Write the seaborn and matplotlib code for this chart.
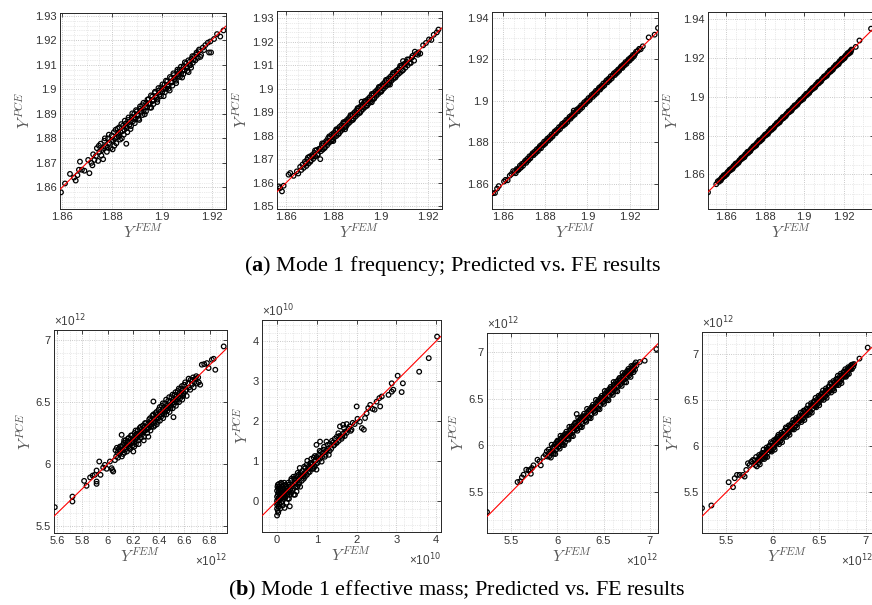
import numpy as np
import matplotlib
matplotlib.use("Agg")
import matplotlib.pyplot as plt
import seaborn as sns
from matplotlib.ticker import AutoMinorLocator, FormatStrFormatter

# ---------------------------------------------------------------------------
# Data: (Y_FEM, Y_PCE) pairs for every panel
# Top row: mode 1 frequency. Bottom row: mode 1 effective mass
# (bottom row values are in units of 1e12, panel b2 in units of 1e10)
# ---------------------------------------------------------------------------

freq_1 = [
    (1.8596, 1.8580), (1.8612, 1.8616), (1.8632, 1.8655), (1.8648, 1.8640), (1.8655, 1.8628),
    (1.8662, 1.8650), (1.8668, 1.8672), (1.8672, 1.8705), (1.8680, 1.8672), (1.8690, 1.8668),
    (1.8705, 1.8712), (1.8710, 1.8658), (1.8718, 1.8700), (1.8725, 1.8735), (1.8730, 1.8712),
    (1.8740, 1.8760), (1.8745, 1.8708), (1.8750, 1.8745), (1.8755, 1.8778), (1.8760, 1.8752),
    (1.8765, 1.8715), (1.8770, 1.8790), (1.8775, 1.8768), (1.8780, 1.8745), (1.8785, 1.8800),
    (1.8790, 1.8782), (1.8795, 1.8760), (1.8800, 1.8812), (1.8805, 1.8790), (1.8810, 1.8770),
    (1.8815, 1.8835), (1.8820, 1.8805), (1.8825, 1.8818), (1.8830, 1.8845), (1.8835, 1.8825),
    (1.8840, 1.8800), (1.8845, 1.8852), (1.8850, 1.8835), (1.8858, 1.8778), (1.8855, 1.8860),
    (1.8860, 1.8842), (1.8865, 1.8875), (1.8870, 1.8855), (1.8875, 1.8838), (1.8880, 1.8888),
    (1.8885, 1.8870), (1.8890, 1.8900), (1.8895, 1.8880), (1.8900, 1.8910), (1.8905, 1.8892),
    (1.8910, 1.8875), (1.8912, 1.8920), (1.8918, 1.8905), (1.8922, 1.8935), (1.8928, 1.8915),
    (1.8932, 1.8898), (1.8938, 1.8945), (1.8942, 1.8928), (1.8948, 1.8960), (1.8952, 1.8940),
    (1.8958, 1.8925), (1.8962, 1.8970), (1.8968, 1.8955), (1.8972, 1.8985), (1.8978, 1.8965),
    (1.8982, 1.8948), (1.8988, 1.8995), (1.8992, 1.8978), (1.8998, 1.9008), (1.9002, 1.8990),
    (1.9008, 1.8972), (1.9012, 1.9020), (1.9018, 1.9002), (1.9022, 1.9032), (1.9028, 1.9015),
    (1.9032, 1.8995), (1.9038, 1.9045), (1.9042, 1.9028), (1.9048, 1.9058), (1.9052, 1.9040),
    (1.9058, 1.9025), (1.9062, 1.9072), (1.9068, 1.9055), (1.9072, 1.9080), (1.9078, 1.9065),
    (1.9082, 1.9048), (1.9088, 1.9095), (1.9092, 1.9078), (1.9098, 1.9105), (1.9102, 1.9088),
    (1.9108, 1.9070), (1.9112, 1.9112), (1.9115, 1.9098), (1.9120, 1.9125), (1.9125, 1.9108),
    (1.9130, 1.9135), (1.9135, 1.9118), (1.9140, 1.9150), (1.9145, 1.9128), (1.9150, 1.9162),
    (1.9158, 1.9140), (1.9165, 1.9170), (1.9175, 1.9180), (1.9190, 1.9150), (1.9198, 1.9150),
    (1.9210, 1.9205), (1.9222, 1.9225), (1.9235, 1.9215), (1.9248, 1.9240),
    (1.8722, 1.8690), (1.8736, 1.8728), (1.8748, 1.8770), (1.8758, 1.8730), (1.8768, 1.8760),
    (1.8772, 1.8800), (1.8783, 1.8762), (1.8788, 1.8815), (1.8797, 1.8790), (1.8803, 1.8755),
    (1.8808, 1.8825), (1.8812, 1.8800), (1.8818, 1.8780), (1.8823, 1.8840), (1.8828, 1.8808),
    (1.8833, 1.8795), (1.8838, 1.8858), (1.8843, 1.8830), (1.8848, 1.8815), (1.8852, 1.8872),
    (1.8857, 1.8850), (1.8862, 1.8825), (1.8867, 1.8885), (1.8872, 1.8868), (1.8877, 1.8850),
    (1.8882, 1.8902), (1.8887, 1.8880), (1.8892, 1.8862), (1.8897, 1.8915), (1.8902, 1.8898),
    (1.8907, 1.8880), (1.8913, 1.8930), (1.8917, 1.8912), (1.8923, 1.8895), (1.8927, 1.8945),
    (1.8933, 1.8925), (1.8937, 1.8910), (1.8943, 1.8958), (1.8947, 1.8942), (1.8953, 1.8925),
    (1.8957, 1.8975), (1.8963, 1.8952), (1.8967, 1.8940), (1.8973, 1.8990), (1.8977, 1.8972),
    (1.8983, 1.8958), (1.8987, 1.9005), (1.8993, 1.8988), (1.8997, 1.8972), (1.9003, 1.9020),
    (1.9007, 1.9000), (1.9013, 1.8988), (1.9017, 1.9035), (1.9023, 1.9012), (1.9027, 1.9002),
    (1.9033, 1.9050), (1.9037, 1.9030), (1.9043, 1.9015), (1.9047, 1.9065), (1.9053, 1.9048),
    (1.9057, 1.9035), (1.9063, 1.9080), (1.9067, 1.9062), (1.9073, 1.9050), (1.9077, 1.9092),
    (1.9083, 1.9075), (1.9087, 1.9062), (1.9093, 1.9110), (1.9097, 1.9090), (1.9103, 1.9075),
    (1.9107, 1.9118), (1.9113, 1.9100), (1.9118, 1.9088), (1.9123, 1.9135), (1.9128, 1.9120),
    (1.9138, 1.9142), (1.9148, 1.9155), (1.9155, 1.9132), (1.9170, 1.9160), (1.9185, 1.9190),
    (1.9195, 1.9195),
]

freq_2 = [
    (1.8569, 1.8585), (1.8575, 1.8578), (1.8583, 1.8564), (1.8590, 1.8588), (1.8611, 1.8635),
    (1.8618, 1.8642), (1.8632, 1.8630), (1.8646, 1.8649), (1.8652, 1.8640), (1.8660, 1.8668),
    (1.8665, 1.8655), (1.8670, 1.8678), (1.8675, 1.8664), (1.8680, 1.8690), (1.8686, 1.8672),
    (1.8690, 1.8700), (1.8695, 1.8682), (1.8700, 1.8712), (1.8705, 1.8695), (1.8710, 1.8718),
    (1.8715, 1.8702), (1.8720, 1.8728), (1.8725, 1.8712), (1.8730, 1.8740), (1.8735, 1.8722),
    (1.8740, 1.8745), (1.8745, 1.8701), (1.8748, 1.8735), (1.8752, 1.8760), (1.8756, 1.8742),
    (1.8760, 1.8768), (1.8765, 1.8752), (1.8770, 1.8778), (1.8774, 1.8760), (1.8778, 1.8790),
    (1.8782, 1.8770), (1.8786, 1.8795), (1.8790, 1.8778), (1.8794, 1.8806), (1.8798, 1.8786),
    (1.8802, 1.8812), (1.8806, 1.8795), (1.8810, 1.8822), (1.8814, 1.8800), (1.8818, 1.8828),
    (1.8822, 1.8810), (1.8826, 1.8838), (1.8830, 1.8818), (1.8834, 1.8845), (1.8838, 1.8826),
    (1.8842, 1.8852), (1.8846, 1.8835), (1.8850, 1.8860), (1.8854, 1.8842), (1.8858, 1.8868),
    (1.8862, 1.8850), (1.8866, 1.8876), (1.8870, 1.8858), (1.8874, 1.8884), (1.8878, 1.8866),
    (1.8882, 1.8892), (1.8886, 1.8874), (1.8890, 1.8900), (1.8894, 1.8882), (1.8898, 1.8908),
    (1.8902, 1.8890), (1.8906, 1.8916), (1.8910, 1.8898), (1.8914, 1.8924), (1.8918, 1.8906),
    (1.8922, 1.8932), (1.8926, 1.8914), (1.8930, 1.8940), (1.8934, 1.8922), (1.8938, 1.8948),
    (1.8942, 1.8930), (1.8946, 1.8956), (1.8950, 1.8938), (1.8954, 1.8964), (1.8958, 1.8946),
    (1.8962, 1.8972), (1.8963, 1.8943), (1.8966, 1.8954), (1.8970, 1.8980), (1.8974, 1.8962),
    (1.8978, 1.8988), (1.8982, 1.8970), (1.8986, 1.8996), (1.8990, 1.8978), (1.8994, 1.9004),
    (1.8998, 1.8986), (1.9002, 1.9012), (1.9006, 1.8994), (1.9010, 1.9020), (1.9014, 1.9002),
    (1.9018, 1.9028), (1.9022, 1.9010), (1.9026, 1.9036), (1.9030, 1.9018), (1.9034, 1.9044),
    (1.9038, 1.9026), (1.9042, 1.9052), (1.9046, 1.9034), (1.9050, 1.9060), (1.9054, 1.9042),
    (1.9058, 1.9068), (1.9062, 1.9050), (1.9066, 1.9076), (1.9070, 1.9058), (1.9074, 1.9082),
    (1.9078, 1.9065), (1.9082, 1.9090), (1.9086, 1.9072), (1.9090, 1.9098), (1.9095, 1.9080),
    (1.9100, 1.9106), (1.9105, 1.9090), (1.9110, 1.9115), (1.9115, 1.9100), (1.9120, 1.9125),
    (1.9128, 1.9110), (1.9135, 1.9140), (1.9142, 1.9120), (1.9150, 1.9148), (1.9160, 1.9155),
    (1.9168, 1.9150), (1.9180, 1.9185), (1.9192, 1.9195), (1.9205, 1.9210), (1.9215, 1.9208),
    (1.9225, 1.9230), (1.9238, 1.9240), (1.9245, 1.9252),
    (1.8683, 1.8683), (1.8693, 1.8708), (1.8703, 1.8690), (1.8713, 1.8713), (1.8723, 1.8738),
    (1.8733, 1.8718), (1.8743, 1.8743), (1.8753, 1.8768), (1.8763, 1.8748), (1.8773, 1.8773),
    (1.8783, 1.8798), (1.8793, 1.8778), (1.8803, 1.8803), (1.8813, 1.8828), (1.8823, 1.8808),
    (1.8833, 1.8833), (1.8843, 1.8858), (1.8853, 1.8838), (1.8863, 1.8863), (1.8873, 1.8888),
    (1.8883, 1.8868), (1.8893, 1.8893), (1.8903, 1.8918), (1.8913, 1.8898), (1.8923, 1.8923),
    (1.8933, 1.8948), (1.8943, 1.8928), (1.8953, 1.8953), (1.8963, 1.8978), (1.8973, 1.8958),
    (1.8983, 1.8983), (1.8993, 1.9008), (1.9003, 1.8988), (1.9013, 1.9013), (1.9023, 1.9038),
    (1.9033, 1.9018), (1.9043, 1.9043), (1.9053, 1.9068), (1.9063, 1.9048), (1.9073, 1.9073),
    (1.9083, 1.9098), (1.9093, 1.9078), (1.9103, 1.9103), (1.9113, 1.9125), (1.9123, 1.9110),
    (1.9133, 1.9133), (1.9145, 1.9158), (1.9158, 1.9145), (1.8800, 1.8778), (1.8850, 1.8828),
    (1.8920, 1.8945), (1.9040, 1.9018), (1.9095, 1.9118),
]

freq_3 = [
    (1.8553, 1.8556), (1.8562, 1.8557), (1.8572, 1.8578), (1.8580, 1.8590), (1.8605, 1.8612),
    (1.8612, 1.8620), (1.8622, 1.8618), (1.8632, 1.8640), (1.8640, 1.8648), (1.8648, 1.8662),
    (1.8655, 1.8658), (1.8660, 1.8652), (1.8665, 1.8672), (1.8670, 1.8666), (1.8675, 1.8670),
    (1.8680, 1.8688), (1.8685, 1.8679), (1.8690, 1.8697), (1.8695, 1.8688), (1.8700, 1.8703),
    (1.8705, 1.8712), (1.8710, 1.8702), (1.8715, 1.8721), (1.8720, 1.8714), (1.8725, 1.8733),
    (1.8730, 1.8724), (1.8735, 1.8738), (1.8740, 1.8748), (1.8745, 1.8739), (1.8750, 1.8756),
    (1.8755, 1.8749), (1.8760, 1.8767), (1.8765, 1.8758), (1.8770, 1.8774), (1.8775, 1.8783),
    (1.8780, 1.8772), (1.8785, 1.8791), (1.8790, 1.8786), (1.8795, 1.8804), (1.8800, 1.8794),
    (1.8805, 1.8808), (1.8810, 1.8818), (1.8815, 1.8809), (1.8820, 1.8826), (1.8825, 1.8819),
    (1.8830, 1.8838), (1.8835, 1.8829), (1.8840, 1.8843), (1.8845, 1.8853), (1.8850, 1.8844),
    (1.8855, 1.8861), (1.8860, 1.8856), (1.8865, 1.8873), (1.8870, 1.8864), (1.8875, 1.8879),
    (1.8880, 1.8889), (1.8885, 1.8880), (1.8890, 1.8896), (1.8895, 1.8888), (1.8900, 1.8908),
    (1.8905, 1.8898), (1.8910, 1.8913), (1.8915, 1.8923), (1.8920, 1.8914), (1.8925, 1.8931),
    (1.8930, 1.8926), (1.8935, 1.8953), (1.8935, 1.8943), (1.8940, 1.8934), (1.8945, 1.8948),
    (1.8950, 1.8958), (1.8955, 1.8949), (1.8960, 1.8966), (1.8965, 1.8959), (1.8970, 1.8978),
    (1.8975, 1.8968), (1.8980, 1.8983), (1.8985, 1.8993), (1.8990, 1.8984), (1.8995, 1.9001),
    (1.9000, 1.8996), (1.9005, 1.9013), (1.9010, 1.9004), (1.9015, 1.9018), (1.9020, 1.9028),
    (1.9025, 1.9019), (1.9030, 1.9036), (1.9035, 1.9029), (1.9040, 1.9048), (1.9045, 1.9038),
    (1.9050, 1.9053), (1.9055, 1.9063), (1.9060, 1.9054), (1.9065, 1.9071), (1.9070, 1.9066),
    (1.9075, 1.9083), (1.9080, 1.9074), (1.9085, 1.9088), (1.9090, 1.9098), (1.9095, 1.9089),
    (1.9100, 1.9106), (1.9105, 1.9099), (1.9110, 1.9118), (1.9115, 1.9108), (1.9120, 1.9123),
    (1.9125, 1.9132), (1.9130, 1.9124), (1.9135, 1.9140), (1.9140, 1.9134), (1.9145, 1.9150),
    (1.9150, 1.9144), (1.9155, 1.9158), (1.9160, 1.9166), (1.9165, 1.9158), (1.9170, 1.9174),
    (1.9175, 1.9170), (1.9180, 1.9186), (1.9185, 1.9178), (1.9190, 1.9192), (1.9195, 1.9200),
    (1.9200, 1.9194), (1.9205, 1.9208), (1.9210, 1.9204), (1.9215, 1.9220), (1.9220, 1.9214),
    (1.9225, 1.9226), (1.9230, 1.9236), (1.9238, 1.9240), (1.9245, 1.9250), (1.9252, 1.9248),
    (1.9262, 1.9262), (1.9290, 1.9305), (1.9318, 1.9318), (1.9334, 1.9350),
    (1.8668, 1.8668), (1.8683, 1.8680), (1.8698, 1.8700), (1.8713, 1.8712), (1.8728, 1.8726),
    (1.8743, 1.8744), (1.8758, 1.8758), (1.8773, 1.8771), (1.8788, 1.8789), (1.8803, 1.8802),
    (1.8818, 1.8818), (1.8833, 1.8831), (1.8848, 1.8849), (1.8863, 1.8862), (1.8878, 1.8878),
    (1.8893, 1.8891), (1.8908, 1.8909), (1.8923, 1.8922), (1.8938, 1.8938), (1.8953, 1.8951),
    (1.8968, 1.8969), (1.8983, 1.8982), (1.8998, 1.8998), (1.9013, 1.9011), (1.9028, 1.9029),
    (1.9043, 1.9042), (1.9058, 1.9058), (1.9073, 1.9071), (1.9088, 1.9089), (1.9103, 1.9102),
    (1.9118, 1.9118), (1.9133, 1.9131), (1.9148, 1.9149), (1.9163, 1.9162), (1.9178, 1.9178),
    (1.9193, 1.9191), (1.9208, 1.9209), (1.9223, 1.9222),
]

freq_4 = [
    (1.8510, 1.8508), (1.8552, 1.8550),
    (1.8560, 1.8565), (1.8565, 1.8562), (1.8570, 1.8572), (1.8575, 1.8569), (1.8580, 1.8584),
    (1.8585, 1.8584), (1.8590, 1.8596), (1.8595, 1.8591), (1.8600, 1.8601), (1.8605, 1.8600),
    (1.8610, 1.8613), (1.8615, 1.8615), (1.8620, 1.8625), (1.8625, 1.8622), (1.8630, 1.8632),
    (1.8635, 1.8629), (1.8640, 1.8644), (1.8645, 1.8644), (1.8650, 1.8656), (1.8655, 1.8651),
    (1.8660, 1.8661), (1.8665, 1.8660), (1.8670, 1.8673), (1.8675, 1.8675), (1.8680, 1.8685),
    (1.8685, 1.8682), (1.8690, 1.8692), (1.8695, 1.8689), (1.8700, 1.8704), (1.8705, 1.8704),
    (1.8710, 1.8716), (1.8715, 1.8711), (1.8720, 1.8721), (1.8725, 1.8720), (1.8730, 1.8733),
    (1.8735, 1.8735), (1.8740, 1.8745), (1.8745, 1.8742), (1.8750, 1.8752), (1.8755, 1.8749),
    (1.8760, 1.8764), (1.8765, 1.8764), (1.8770, 1.8776), (1.8775, 1.8771), (1.8780, 1.8781),
    (1.8785, 1.8780), (1.8790, 1.8793), (1.8795, 1.8795), (1.8800, 1.8805), (1.8805, 1.8802),
    (1.8810, 1.8812), (1.8815, 1.8809), (1.8820, 1.8824), (1.8825, 1.8824), (1.8830, 1.8836),
    (1.8835, 1.8831), (1.8840, 1.8841), (1.8845, 1.8840), (1.8850, 1.8853), (1.8855, 1.8855),
    (1.8860, 1.8865), (1.8865, 1.8862), (1.8870, 1.8872), (1.8875, 1.8869), (1.8880, 1.8884),
    (1.8885, 1.8884), (1.8890, 1.8896), (1.8895, 1.8891), (1.8900, 1.8901), (1.8905, 1.8900),
    (1.8910, 1.8913), (1.8915, 1.8915), (1.8920, 1.8925), (1.8925, 1.8922), (1.8930, 1.8932),
    (1.8935, 1.8929), (1.8940, 1.8944), (1.8945, 1.8944), (1.8950, 1.8956), (1.8955, 1.8951),
    (1.8960, 1.8961), (1.8965, 1.8960), (1.8970, 1.8973), (1.8975, 1.8975), (1.8980, 1.8985),
    (1.8985, 1.8982), (1.8990, 1.8992), (1.8995, 1.8989), (1.9000, 1.9004), (1.9005, 1.9004),
    (1.9010, 1.9016), (1.9015, 1.9011), (1.9020, 1.9021), (1.9025, 1.9020), (1.9030, 1.9033),
    (1.9035, 1.9035), (1.9040, 1.9045), (1.9045, 1.9042), (1.9050, 1.9052), (1.9055, 1.9049),
    (1.9060, 1.9064), (1.9065, 1.9064), (1.9070, 1.9076), (1.9075, 1.9071), (1.9080, 1.9081),
    (1.9085, 1.9080), (1.9090, 1.9093), (1.9095, 1.9095), (1.9100, 1.9105), (1.9105, 1.9102),
    (1.9110, 1.9112), (1.9115, 1.9109), (1.9120, 1.9124), (1.9125, 1.9124), (1.9130, 1.9136),
    (1.9135, 1.9131), (1.9140, 1.9141), (1.9145, 1.9140), (1.9150, 1.9153), (1.9155, 1.9155),
    (1.9160, 1.9165), (1.9165, 1.9162), (1.9170, 1.9172), (1.9175, 1.9169), (1.9180, 1.9184),
    (1.9185, 1.9184), (1.9190, 1.9196), (1.9195, 1.9191), (1.9200, 1.9201), (1.9205, 1.9200),
    (1.9210, 1.9213), (1.9215, 1.9215), (1.9220, 1.9225), (1.9225, 1.9222), (1.9230, 1.9232),
    (1.9235, 1.9229), (1.9240, 1.9244),
    (1.9262, 1.9258), (1.9281, 1.9291), (1.9340, 1.9352),
    (1.8578, 1.8577), (1.8593, 1.8594), (1.8608, 1.8607), (1.8623, 1.8624), (1.8638, 1.8637),
    (1.8653, 1.8654), (1.8668, 1.8667), (1.8683, 1.8684), (1.8698, 1.8697), (1.8713, 1.8714),
    (1.8728, 1.8727), (1.8743, 1.8744), (1.8758, 1.8757), (1.8773, 1.8774), (1.8788, 1.8787),
    (1.8803, 1.8804), (1.8818, 1.8817), (1.8833, 1.8834), (1.8848, 1.8847), (1.8863, 1.8864),
    (1.8878, 1.8877), (1.8893, 1.8894), (1.8908, 1.8907), (1.8923, 1.8924), (1.8938, 1.8937),
    (1.8953, 1.8954), (1.8968, 1.8967), (1.8983, 1.8984), (1.8998, 1.8997), (1.9013, 1.9014),
    (1.9028, 1.9027), (1.9043, 1.9044), (1.9058, 1.9057), (1.9073, 1.9074), (1.9088, 1.9087),
    (1.9103, 1.9104), (1.9118, 1.9117), (1.9133, 1.9134), (1.9148, 1.9147), (1.9163, 1.9164),
    (1.9178, 1.9177), (1.9193, 1.9194), (1.9208, 1.9207), (1.9223, 1.9224), (1.9238, 1.9237),
]

mass_1 = [
    (5.582, 5.649), (5.721, 5.735), (5.721, 5.695), (5.813, 5.862), (5.832, 5.822),
    (5.860, 5.890), (5.880, 5.905), (5.897, 5.911), (5.911, 5.946), (5.911, 5.857),
    (5.911, 5.838), (5.932, 6.019), (5.942, 5.911), (5.963, 5.970), (5.976, 5.992),
    (5.990, 5.960), (6.016, 6.019), (6.029, 5.965), (6.042, 5.938), (6.035, 5.950),
    (6.055, 6.030), (6.060, 6.110), (6.065, 6.060), (6.070, 6.130), (6.075, 6.090),
    (6.080, 6.050), (6.085, 6.120), (6.090, 6.080), (6.095, 6.140), (6.100, 6.100),
    (6.108, 6.235), (6.110, 6.060), (6.115, 6.150), (6.120, 6.110), (6.125, 6.170),
    (6.130, 6.090), (6.135, 6.130), (6.140, 6.190), (6.145, 6.150), (6.150, 6.100),
    (6.155, 6.180), (6.160, 6.140), (6.165, 6.210), (6.170, 6.160), (6.175, 6.120),
    (6.180, 6.200), (6.185, 6.170), (6.190, 6.230), (6.195, 6.150), (6.200, 6.100),
    (6.200, 6.210), (6.205, 6.180), (6.210, 6.250), (6.215, 6.200), (6.220, 6.160),
    (6.225, 6.240), (6.230, 6.210), (6.235, 6.270), (6.240, 6.190), (6.245, 6.230),
    (6.250, 6.290), (6.255, 6.250), (6.260, 6.210), (6.265, 6.280), (6.270, 6.240),
    (6.275, 6.310), (6.280, 6.260), (6.285, 6.220), (6.290, 6.300), (6.295, 6.270),
    (6.300, 6.330), (6.305, 6.290), (6.310, 6.250), (6.315, 6.320), (6.320, 6.290),
    (6.325, 6.360), (6.330, 6.310), (6.335, 6.270), (6.340, 6.350), (6.345, 6.320),
    (6.350, 6.390), (6.355, 6.340), (6.358, 6.505), (6.360, 6.300), (6.365, 6.370),
    (6.370, 6.340), (6.375, 6.410), (6.380, 6.360), (6.385, 6.320), (6.390, 6.400),
    (6.395, 6.370), (6.400, 6.440), (6.405, 6.390), (6.410, 6.350), (6.415, 6.420),
    (6.420, 6.400), (6.425, 6.470), (6.430, 6.410), (6.435, 6.370), (6.440, 6.450),
    (6.445, 6.420), (6.450, 6.490), (6.455, 6.440), (6.460, 6.400), (6.465, 6.470),
    (6.470, 6.450), (6.475, 6.510), (6.480, 6.460), (6.485, 6.420), (6.490, 6.500),
    (6.495, 6.470), (6.500, 6.540), (6.505, 6.490), (6.510, 6.450), (6.516, 6.378),
    (6.515, 6.520), (6.520, 6.500), (6.525, 6.560), (6.530, 6.510), (6.535, 6.470),
    (6.540, 6.550), (6.545, 6.520), (6.550, 6.590), (6.555, 6.540), (6.560, 6.500),
    (6.565, 6.570), (6.570, 6.550), (6.575, 6.610), (6.580, 6.560), (6.585, 6.520),
    (6.590, 6.600), (6.595, 6.570), (6.600, 6.640), (6.610, 6.590), (6.620, 6.550),
    (6.630, 6.650), (6.640, 6.620), (6.650, 6.680), (6.660, 6.640), (6.670, 6.700),
    (6.680, 6.660), (6.690, 6.690), (6.700, 6.650), (6.726, 6.641), (6.710, 6.700),
    (6.739, 6.803), (6.758, 6.808), (6.779, 6.816), (6.792, 6.776), (6.818, 6.843),
    (6.832, 6.851), (6.845, 6.762), (6.911, 6.951),
    (6.105, 6.140), (6.118, 6.080), (6.128, 6.190), (6.142, 6.120), (6.158, 6.205),
    (6.168, 6.130), (6.182, 6.230), (6.192, 6.180), (6.208, 6.140), (6.218, 6.270),
    (6.232, 6.235), (6.242, 6.160), (6.258, 6.300), (6.268, 6.260), (6.282, 6.190),
    (6.292, 6.330), (6.308, 6.280), (6.318, 6.220), (6.332, 6.370), (6.342, 6.300),
    (6.358, 6.400), (6.368, 6.310), (6.382, 6.420), (6.392, 6.340), (6.408, 6.460),
    (6.418, 6.380), (6.432, 6.490), (6.442, 6.400), (6.458, 6.520), (6.468, 6.430),
    (6.482, 6.540), (6.492, 6.450), (6.508, 6.560), (6.518, 6.480), (6.532, 6.580),
    (6.542, 6.500), (6.558, 6.610), (6.568, 6.530), (6.582, 6.630), (6.592, 6.550),
    (6.608, 6.660), (6.618, 6.600), (6.635, 6.690), (6.648, 6.600), (6.665, 6.680),
    (6.675, 6.620), (6.695, 6.710), (6.715, 6.660),
]

mass_2 = [
    (0.00, -0.37), (0.00, -0.20), (0.00, -0.10), (0.00, 0.00), (0.00, 0.10), (0.00, 0.25),
    (0.01, 0.35), (0.01, -0.05), (0.02, 0.15), (0.02, -0.25), (0.03, 0.05), (0.03, 0.30),
    (0.04, -0.15), (0.04, 0.20), (0.05, 0.00), (0.05, 0.42), (0.06, -0.08), (0.07, 0.12),
    (0.07, 0.28), (0.08, -0.20), (0.09, 0.05), (0.10, 0.18), (0.10, 0.45), (0.11, -0.05),
    (0.12, 0.10), (0.13, 0.30), (0.14, -0.12), (0.15, 0.20), (0.16, 0.05), (0.17, 0.38),
    (0.18, 0.15), (0.19, -0.18), (0.20, 0.25), (0.21, 0.08), (0.22, 0.40), (0.23, 0.18),
    (0.24, -0.05), (0.25, 0.30), (0.26, 0.15), (0.28, 0.45), (0.29, 0.22), (0.30, 0.05),
    (0.31, 0.35), (0.32, -0.14), (0.33, 0.28), (0.35, 0.50), (0.36, 0.20), (0.38, 0.40),
    (0.40, 0.30), (0.41, 0.60), (0.42, 0.15), (0.44, 0.45), (0.45, 0.15), (0.46, 0.35),
    (0.48, 0.62), (0.49, 0.23), (0.50, 0.50), (0.52, 0.70), (0.53, 0.40), (0.55, 0.55),
    (0.57, 0.82), (0.58, 0.35), (0.60, 0.62), (0.62, 0.50), (0.64, 0.75), (0.66, 0.61),
    (0.68, 0.85), (0.70, 0.60), (0.72, 0.72), (0.74, 0.90), (0.76, 1.00), (0.78, 0.70),
    (0.80, 0.82), (0.82, 0.72), (0.84, 0.95), (0.86, 1.05), (0.88, 0.80), (0.90, 0.92),
    (0.92, 1.08), (0.94, 0.85), (0.96, 1.00), (0.99, 0.78), (0.99, 1.40), (1.00, 1.10),
    (1.02, 0.95), (1.05, 1.15), (1.08, 1.48), (1.08, 1.05), (1.10, 1.22), (1.12, 0.98),
    (1.15, 1.20), (1.18, 1.35), (1.20, 1.10), (1.24, 1.48), (1.24, 1.25), (1.28, 1.30),
    (1.30, 1.15), (1.33, 1.42), (1.36, 1.30), (1.40, 1.45), (1.42, 1.38), (1.45, 1.55),
    (1.48, 1.45), (1.50, 1.60), (1.54, 1.69), (1.55, 1.50), (1.58, 1.86), (1.60, 1.62),
    (1.62, 1.55), (1.66, 1.90), (1.66, 1.68), (1.70, 1.62), (1.71, 1.73), (1.75, 1.92),
    (1.75, 1.70), (1.80, 1.80), (1.82, 1.86), (1.85, 1.75), (1.87, 1.78), (1.90, 1.95),
    (1.95, 1.92), (2.00, 2.36), (2.02, 2.05), (2.08, 1.98), (2.13, 1.82), (2.18, 1.78),
    (2.21, 2.07), (2.25, 2.19), (2.29, 2.32), (2.34, 2.40), (2.40, 2.30), (2.45, 2.28),
    (2.50, 2.48), (2.57, 2.57), (2.59, 2.36), (2.63, 2.61), (2.80, 2.65), (2.88, 2.94),
    (2.88, 2.73), (2.92, 2.78), (3.03, 3.13), (3.13, 2.72), (3.16, 2.94), (3.57, 3.23),
    (3.81, 3.57), (4.02, 4.11),
    (0.02, 0.40), (0.03, -0.30), (0.05, 0.22), (0.06, 0.35), (0.08, 0.10), (0.09, 0.30),
    (0.11, 0.25), (0.12, 0.42), (0.14, 0.08), (0.16, 0.30), (0.18, 0.45), (0.20, 0.10),
    (0.22, 0.25), (0.24, 0.35), (0.27, 0.05), (0.30, 0.40), (0.33, 0.15), (0.36, 0.55),
    (0.39, 0.25), (0.43, 0.55), (0.47, 0.45), (0.51, 0.35), (0.54, 0.65), (0.56, 0.45),
    (0.59, 0.70), (0.63, 0.62), (0.67, 0.55), (0.71, 0.82), (0.75, 0.65), (0.79, 0.85),
    (0.83, 0.80), (0.87, 0.92), (0.91, 0.80), (0.95, 1.12), (0.98, 0.92), (1.03, 1.05),
    (1.07, 1.25), (1.13, 1.10), (1.17, 1.28), (1.22, 1.15), (1.27, 1.40), (1.32, 1.25),
    (1.38, 1.50), (1.44, 1.40), (1.50, 1.45), (1.56, 1.62), (1.64, 1.60), (1.68, 1.82),
]

mass_3 = [
    (5.237, 5.286), (5.568, 5.607), (5.597, 5.614), (5.615, 5.657), (5.633, 5.686),
    (5.662, 5.739), (5.687, 5.732), (5.705, 5.739), (5.712, 5.696), (5.723, 5.757),
    (5.741, 5.786), (5.784, 5.846), (5.806, 5.829), (5.820, 5.786), (5.849, 5.875),
    (5.870, 5.900), (5.885, 5.936), (5.895, 5.880),
    (5.905, 5.955), (5.913, 5.883), (5.921, 5.931), (5.929, 5.869), (5.937, 6.007),
    (5.945, 5.935), (5.953, 5.983), (5.961, 5.911), (5.969, 5.989), (5.977, 5.907),
    (5.985, 6.025), (5.993, 5.993), (6.001, 6.051), (6.009, 5.979), (6.017, 6.027),
    (6.025, 5.965), (6.033, 6.103), (6.041, 6.031), (6.049, 6.079), (6.057, 6.007),
    (6.065, 6.085), (6.073, 6.003), (6.081, 6.121), (6.089, 6.089), (6.097, 6.147),
    (6.105, 6.075), (6.113, 6.123), (6.121, 6.061), (6.129, 6.199), (6.137, 6.127),
    (6.145, 6.175), (6.153, 6.103), (6.161, 6.181), (6.169, 6.099), (6.177, 6.217),
    (6.185, 6.185), (6.193, 6.243), (6.201, 6.171), (6.209, 6.336), (6.217, 6.157),
    (6.225, 6.295), (6.233, 6.223), (6.241, 6.271), (6.249, 6.199), (6.257, 6.277),
    (6.265, 6.195), (6.273, 6.313), (6.281, 6.281), (6.289, 6.339), (6.297, 6.267),
    (6.305, 6.315), (6.313, 6.253), (6.321, 6.391), (6.329, 6.319), (6.337, 6.367),
    (6.345, 6.295), (6.353, 6.373), (6.361, 6.291), (6.369, 6.409), (6.377, 6.377),
    (6.385, 6.435), (6.393, 6.363), (6.401, 6.411), (6.409, 6.349), (6.417, 6.487),
    (6.425, 6.415), (6.433, 6.463), (6.441, 6.391), (6.449, 6.469), (6.457, 6.387),
    (6.465, 6.505), (6.473, 6.473), (6.481, 6.531), (6.489, 6.459), (6.497, 6.507),
    (6.505, 6.445), (6.513, 6.583), (6.521, 6.511), (6.529, 6.559), (6.537, 6.487),
    (6.545, 6.565), (6.553, 6.483), (6.561, 6.601), (6.569, 6.569), (6.577, 6.627),
    (6.585, 6.555), (6.593, 6.603), (6.601, 6.541), (6.609, 6.679), (6.617, 6.607),
    (6.625, 6.655), (6.633, 6.583), (6.641, 6.661), (6.649, 6.579), (6.657, 6.697),
    (6.665, 6.665), (6.673, 6.723), (6.681, 6.651), (6.689, 6.699), (6.697, 6.637),
    (6.705, 6.775), (6.713, 6.703), (6.721, 6.751), (6.729, 6.679), (6.737, 6.757),
    (6.745, 6.675), (6.753, 6.793), (6.761, 6.761), (6.769, 6.819), (6.777, 6.747),
    (6.785, 6.795), (6.793, 6.733), (6.801, 6.851), (6.809, 6.799), (6.817, 6.847),
    (6.825, 6.785), (6.833, 6.853), (6.841, 6.811), (6.849, 6.889), (6.857, 6.857),
    (6.892, 6.893), (6.946, 6.907), (7.072, 7.032),
    (5.950, 5.975), (5.962, 5.930), (5.974, 6.010), (5.986, 5.955), (5.998, 6.040),
    (6.010, 6.020), (6.022, 5.990), (6.034, 6.070), (6.046, 6.010), (6.058, 6.100),
    (6.070, 6.060), (6.082, 6.030), (6.094, 6.120), (6.106, 6.100), (6.118, 6.070),
    (6.130, 6.160), (6.142, 6.120), (6.154, 6.200), (6.166, 6.140), (6.178, 6.160),
    (6.190, 6.230), (6.202, 6.210), (6.214, 6.180), (6.226, 6.250), (6.238, 6.200),
    (6.250, 6.290), (6.262, 6.250), (6.274, 6.230), (6.286, 6.310), (6.298, 6.300),
    (6.310, 6.270), (6.322, 6.350), (6.334, 6.300), (6.346, 6.380), (6.358, 6.340),
    (6.370, 6.330), (6.382, 6.410), (6.394, 6.400), (6.406, 6.370), (6.418, 6.450),
    (6.430, 6.400), (6.442, 6.480), (6.454, 6.440), (6.466, 6.430), (6.478, 6.510),
    (6.490, 6.500), (6.502, 6.470), (6.514, 6.550), (6.526, 6.500), (6.538, 6.580),
    (6.550, 6.540), (6.562, 6.530), (6.574, 6.610), (6.586, 6.600), (6.598, 6.570),
    (6.610, 6.650), (6.622, 6.600), (6.634, 6.680), (6.646, 6.640), (6.658, 6.630),
    (6.670, 6.710), (6.682, 6.700), (6.694, 6.670), (6.706, 6.740), (6.718, 6.700),
    (6.730, 6.770), (6.742, 6.740), (6.754, 6.730), (6.766, 6.800), (6.778, 6.790),
    (6.790, 6.770), (6.802, 6.820), (6.814, 6.810), (6.826, 6.830), (6.838, 6.870),
]

mass_4 = [
    (5.238, 5.327), (5.339, 5.356), (5.525, 5.608), (5.572, 5.554), (5.590, 5.651),
    (5.615, 5.687), (5.643, 5.687), (5.679, 5.687), (5.697, 5.669), (5.715, 5.741),
    (5.733, 5.813), (5.751, 5.795), (5.769, 5.831), (5.787, 5.849),
    (5.805, 5.845), (5.813, 5.793), (5.821, 5.881), (5.829, 5.779), (5.837, 5.847),
    (5.845, 5.815), (5.853, 5.903), (5.861, 5.801), (5.869, 5.889), (5.877, 5.877),
    (5.885, 5.925), (5.893, 5.873), (5.901, 5.961), (5.909, 5.859), (5.917, 5.927),
    (5.925, 5.895), (5.933, 5.983), (5.941, 5.881), (5.949, 5.969), (5.957, 5.957),
    (5.965, 6.005), (5.973, 5.953), (5.981, 6.041), (5.989, 5.939), (5.997, 6.007),
    (6.005, 5.975), (6.013, 6.063), (6.021, 5.961), (6.029, 6.049), (6.037, 6.037),
    (6.045, 6.085), (6.053, 6.033), (6.061, 6.121), (6.069, 6.019), (6.077, 6.087),
    (6.085, 6.055), (6.093, 6.143), (6.101, 6.041), (6.109, 6.129), (6.117, 6.117),
    (6.125, 6.165), (6.133, 6.113), (6.141, 6.201), (6.149, 6.099), (6.157, 6.167),
    (6.165, 6.135), (6.173, 6.223), (6.181, 6.121), (6.189, 6.209), (6.197, 6.197),
    (6.205, 6.245), (6.213, 6.193), (6.221, 6.281), (6.229, 6.179), (6.237, 6.247),
    (6.245, 6.215), (6.253, 6.303), (6.261, 6.201), (6.269, 6.289), (6.277, 6.277),
    (6.285, 6.325), (6.293, 6.273), (6.301, 6.361), (6.309, 6.259), (6.317, 6.327),
    (6.325, 6.295), (6.333, 6.383), (6.341, 6.281), (6.349, 6.369), (6.357, 6.357),
    (6.365, 6.405), (6.373, 6.353), (6.381, 6.441), (6.389, 6.339), (6.397, 6.407),
    (6.405, 6.375), (6.413, 6.463), (6.421, 6.361), (6.429, 6.449), (6.437, 6.437),
    (6.445, 6.485), (6.453, 6.433), (6.461, 6.521), (6.469, 6.419), (6.477, 6.487),
    (6.485, 6.455), (6.493, 6.543), (6.501, 6.441), (6.509, 6.529), (6.517, 6.517),
    (6.525, 6.565), (6.533, 6.513), (6.541, 6.601), (6.549, 6.499), (6.557, 6.567),
    (6.565, 6.535), (6.573, 6.623), (6.581, 6.521), (6.589, 6.609), (6.597, 6.597),
    (6.605, 6.645), (6.613, 6.593), (6.621, 6.681), (6.629, 6.579), (6.637, 6.647),
    (6.645, 6.615), (6.653, 6.703), (6.661, 6.601), (6.669, 6.689), (6.677, 6.677),
    (6.685, 6.725), (6.693, 6.673), (6.701, 6.761), (6.709, 6.659), (6.717, 6.727),
    (6.725, 6.695), (6.733, 6.783), (6.741, 6.681), (6.749, 6.769), (6.757, 6.757),
    (6.765, 6.805), (6.773, 6.753), (6.781, 6.831), (6.789, 6.749), (6.797, 6.807),
    (6.805, 6.775), (6.813, 6.853), (6.821, 6.781), (6.829, 6.849), (6.837, 6.837),
    (6.845, 6.875), (6.853, 6.833), (6.861, 6.881), (6.869, 6.859), (6.877, 6.887),
    (6.934, 6.946), (7.023, 7.065),
    (5.850, 5.860), (5.862, 5.840), (5.874, 5.900), (5.886, 5.860), (5.898, 5.920),
    (5.910, 5.900), (5.922, 5.880), (5.934, 5.960), (5.946, 5.930), (5.958, 5.990),
    (5.970, 5.960), (5.982, 5.950), (5.994, 6.030), (6.006, 6.000), (6.018, 5.990),
    (6.030, 6.070), (6.042, 6.030), (6.054, 6.100), (6.066, 6.060), (6.078, 6.050),
    (6.090, 6.120), (6.102, 6.100), (6.114, 6.090), (6.126, 6.160), (6.138, 6.120),
    (6.150, 6.190), (6.162, 6.160), (6.174, 6.150), (6.186, 6.220), (6.198, 6.190),
    (6.210, 6.180), (6.222, 6.250), (6.234, 6.210), (6.246, 6.280), (6.258, 6.250),
    (6.270, 6.240), (6.282, 6.310), (6.294, 6.290), (6.306, 6.280), (6.318, 6.350),
    (6.330, 6.310), (6.342, 6.380), (6.354, 6.340), (6.366, 6.330), (6.378, 6.400),
    (6.390, 6.380), (6.402, 6.370), (6.414, 6.440), (6.426, 6.400), (6.438, 6.470),
    (6.450, 6.440), (6.462, 6.430), (6.474, 6.500), (6.486, 6.480), (6.498, 6.470),
    (6.510, 6.540), (6.522, 6.500), (6.534, 6.570), (6.546, 6.540), (6.558, 6.530),
    (6.570, 6.600), (6.582, 6.580), (6.594, 6.570), (6.606, 6.640), (6.618, 6.600),
    (6.630, 6.670), (6.642, 6.630), (6.654, 6.620), (6.666, 6.690), (6.678, 6.670),
    (6.690, 6.660), (6.702, 6.730), (6.714, 6.700), (6.726, 6.760), (6.738, 6.720),
    (6.750, 6.740), (6.762, 6.790), (6.774, 6.770), (6.786, 6.760), (6.798, 6.820),
    (6.810, 6.800), (6.822, 6.840), (6.834, 6.830), (6.846, 6.850), (6.858, 6.880),
]

# axis settings per panel: limits, major ticks, minor subdivisions, exponent label
freq_ticks_x = [1.86, 1.88, 1.90, 1.92]
panels = [
    dict(data=freq_1, xlim=(1.8592, 1.9258), ylim=(1.8512, 1.9311), xt=freq_ticks_x,
         yt=[1.86, 1.87, 1.88, 1.89, 1.90, 1.91, 1.92, 1.93], mx=4, my=5, exp=None),
    dict(data=freq_2, xlim=(1.8562, 1.9260), ylim=(1.8489, 1.9331), xt=freq_ticks_x,
         yt=[1.85, 1.86, 1.87, 1.88, 1.89, 1.90, 1.91, 1.92, 1.93], mx=4, my=5, exp=None),
    dict(data=freq_3, xlim=(1.8548, 1.9334), ylim=(1.8480, 1.9427), xt=freq_ticks_x,
         yt=[1.86, 1.88, 1.90, 1.92, 1.94], mx=4, my=4, exp=None),
    dict(data=freq_4, xlim=(1.8510, 1.9355), ylim=(1.8422, 1.9438), xt=freq_ticks_x,
         yt=[1.86, 1.88, 1.90, 1.92, 1.94], mx=4, my=4, exp=None),
    dict(data=mass_1, xlim=(5.576, 6.937), ylim=(5.44, 7.084),
         xt=[5.6, 5.8, 6.0, 6.2, 6.4, 6.6, 6.8], yt=[5.5, 6.0, 6.5, 7.0], mx=4, my=5, exp='12'),
    dict(data=mass_2, xlim=(-0.378, 4.118), ylim=(-0.783, 4.525),
         xt=[0, 1, 2, 3, 4], yt=[0, 1, 2, 3, 4], mx=5, my=5, exp='10'),
    dict(data=mass_3, xlim=(5.237, 7.09), ylim=(5.061, 7.204),
         xt=[5.5, 6.0, 6.5, 7.0], yt=[5.5, 6.0, 6.5, 7.0], mx=5, my=5, exp='12'),
    dict(data=mass_4, xlim=(5.238, 7.08), ylim=(5.058, 7.234),
         xt=[5.5, 6.0, 6.5, 7.0], yt=[5.5, 6.0, 6.5, 7.0], mx=5, my=5, exp='12'),
]

# axes boxes in pixels (left, top, right, bottom) of the 872x605 canvas
boxes = [(60, 13, 226, 209), (277, 11, 442, 209), (492, 12, 658, 209), (708, 12, 874, 209),
         (54, 330, 227, 533), (262, 320, 441, 532), (487, 333, 658, 533), (702, 332, 873, 533)]

captions = [("a", "Mode 1 frequency; Predicted vs. FE results", 453, 266),
            ("b", "Mode 1 effective mass; Predicted vs. FE results", 457, 590)]

sns.set_theme(style="white")
plt.rcParams["font.family"] = ["Liberation Sans", "DejaVu Sans"]
plt.rcParams["mathtext.fontset"] = "custom"
plt.rcParams["mathtext.rm"] = "Liberation Serif"
plt.rcParams["mathtext.bf"] = "Liberation Serif:bold"

W, H = 872, 605
fig = plt.figure(figsize=(W / 100, H / 100), dpi=100)
fig.patch.set_facecolor("white")

for cfg, (l, t, r, b) in zip(panels, boxes):
    ax = fig.add_axes([l / W, 1 - b / H, (r - l) / W, (b - t) / H])
    pts = np.array(cfg["data"])
    sns.scatterplot(x=pts[:, 0], y=pts[:, 1], ax=ax, marker="o", s=11,
                    facecolor="none", edgecolor="black", linewidth=0.9,
                    legend=False, zorder=3)
    # reference line Y_PCE = Y_FEM
    ax.axline((pts[:, 0].mean(), pts[:, 0].mean()), slope=1, color="red", lw=0.8, zorder=4)

    ax.set_xlim(*cfg["xlim"])
    ax.set_ylim(*cfg["ylim"])
    ax.set_xticks(cfg["xt"])
    ax.set_yticks(cfg["yt"])
    ax.xaxis.set_minor_locator(AutoMinorLocator(cfg["mx"]))
    ax.yaxis.set_minor_locator(AutoMinorLocator(cfg["my"]))
    ax.xaxis.set_major_formatter(FormatStrFormatter("%g"))
    ax.yaxis.set_major_formatter(FormatStrFormatter("%g"))

    ax.set_axisbelow(True)
    ax.grid(True, which="major", ls=":", color="0.72", lw=0.6)
    ax.grid(True, which="minor", ls=":", color="0.84", lw=0.5)
    ax.tick_params(which="major", direction="in", top=True, right=True, length=3,
                   width=0.6, color="0.15", labelsize=8, labelcolor="0.2", pad=2.5)
    ax.tick_params(which="minor", length=0)
    for sp in ax.spines.values():
        sp.set_color("0.15")
        sp.set_linewidth(0.7)

    ax.set_xlabel(r"$Y^{FEM}$", fontsize=11.5, color="0.35", labelpad=0, math_fontfamily="cm")
    ax.set_ylabel(r"$Y^{PCE}$", fontsize=11.5, color="0.35", labelpad=1, math_fontfamily="cm")

    if cfg["exp"]:
        lab = "\u00d710$^{" + cfg["exp"] + "}$"
        ax.annotate(lab, xy=(0, 1), xycoords="axes fraction", xytext=(0, 0.5),
                    textcoords="offset points", ha="left", va="bottom", fontsize=8.5,
                    color="0.25", math_fontfamily="dejavusans")
        ax.annotate(lab, xy=(1, 0), xycoords="axes fraction", xytext=(0, -20),
                    textcoords="offset points", ha="right", va="center", fontsize=8.5,
                    color="0.25", math_fontfamily="dejavusans")

for tag, text, cx, cy in captions:
    fig.text(cx / W, 1 - cy / H, r"($\mathbf{" + tag + r"}$) " + text,
             ha="center", va="center", fontsize=16, family="Liberation Serif",
             math_fontfamily="custom", color="black")

fig.savefig("out.png", dpi=100, facecolor="white")
